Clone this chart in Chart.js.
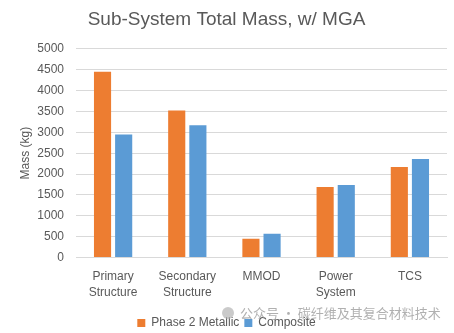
<!DOCTYPE html>
<html><head><meta charset="utf-8">
<script src="https://cdn.jsdelivr.net/npm/chart.js@4/dist/chart.umd.min.js"></script>
<style>html,body{margin:0;padding:0;background:#fff}#w{width:454px;height:333px}</style>
</head><body><div id="w"><canvas id="c"></canvas></div>
<script>
const categories = [["Primary","Structure"],["Secondary","Structure"],"MMOD",["Power","System"],"TCS"];
const metallic = [4450, 3520, 450, 1690, 2170];
const composite = [2950, 3170, 570, 1740, 2360];
const seriesNames = ["Phase 2 Metallic", "Composite"];
const titleText = "Sub-System Total Mass, w/ MGA";
const yTitle = "Mass (kg)";
const watermark = "公众号 · 碳纤维及其复合材料技术";
const FONT = "'Liberation Sans', 'Open Sans', sans-serif";
const GREY = "#595959";

const wm = {
  id: 'wm',
  afterDraw(chart) {
    const ctx = chart.ctx;
    ctx.save();
    ctx.font = "13px 'Noto Sans CJK SC', sans-serif";
    ctx.fillStyle = "rgba(150,150,150,0.75)";
    ctx.textBaseline = "middle";
    ctx.fillText(watermark, 240, 313);
    ctx.beginPath();
    ctx.arc(228, 313, 6, 0, Math.PI*2);
    ctx.fillStyle = "rgba(180,180,180,0.7)";
    ctx.fill();
    ctx.restore();
  }
};

new Chart(document.getElementById('c'), {
  type: 'bar',
  data: {
    labels: categories,
    datasets: [
      {label: seriesNames[0], data: metallic, backgroundColor: '#ED7D31', barPercentage: 0.81, categoryPercentage: 0.57},
      {label: seriesNames[1], data: composite, backgroundColor: '#5B9BD5', barPercentage: 0.81, categoryPercentage: 0.57}
    ]
  },
  options: {
    responsive: true, maintainAspectRatio: false, animation: false,
    layout: {padding: {left: 6, right: 7, top: 4, bottom: -6}},
    plugins: {
      title: {display: true, text: titleText, color: GREY, font: {family: FONT, size: 19, weight: 'normal'}, padding: {top: 4, bottom: 18}},
      legend: {position: 'bottom', labels: {color: GREY, font: {family: FONT, size: 12}, boxWidth: 8, boxHeight: 8, padding: 5}},
      tooltip: {enabled: false}
    },
    scales: {
      x: {
        grid: {display: false, drawTicks: false},
        border: {color: '#D9D9D9'},
        ticks: {color: GREY, font: {family: FONT, size: 12, lineHeight: 1.35}, maxRotation: 0, padding: 11}
      },
      y: {
        min: 0, max: 5000,
        afterFit(scale) { scale.width = 70; },
        ticks: {stepSize: 500, color: GREY, font: {family: FONT, size: 12}, padding: 12, callback: v => String(v)},
        grid: {color: '#D9D9D9', drawTicks: false},
        border: {display: false},
        title: {display: true, text: yTitle, color: GREY, font: {family: FONT, size: 12}, padding: {top: 12, bottom: 2}}
      }
    }
  },
  plugins: [wm]
});
</script></body></html>
